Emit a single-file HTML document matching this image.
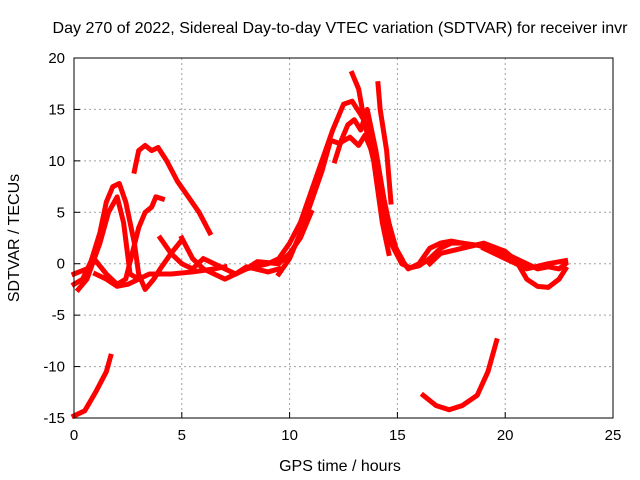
<!DOCTYPE html>
<html><head><meta charset="utf-8"><style>
body{margin:0;background:#fff}
svg{display:block;font-family:"Liberation Sans",sans-serif}
</style></head><body>
<svg id="chart" width="640" height="480">
<text x="340" y="33" font-size="16" text-anchor="middle" textLength="575" lengthAdjust="spacingAndGlyphs">Day 270 of 2022, Sidereal Day-to-day VTEC variation (SDTVAR) for receiver invr</text>
<text x="340" y="471" font-size="16" text-anchor="middle">GPS time / hours</text>
<text transform="translate(19,238) rotate(-90)" font-size="16" text-anchor="middle">SDTVAR / TECUs</text>
<g id="grid"></g><g id="series"></g>
<rect x="74" y="58" width="539" height="360" fill="none" stroke="#000" stroke-width="1"/>
</svg>
<script>
const xTicks=[0,5,10,15,20,25];
const yTicks=[-15,-10,-5,0,5,10,15,20];
const traces=[
[[0,-14.8],[0.5,-14.3],[1,-12.5],[1.5,-10.5],[1.7,-9]],
[[16.2,-12.8],[16.8,-13.8],[17.4,-14.2],[18,-13.8],[18.7,-12.8],[19.2,-10.5],[19.6,-7.5]],
[[2.8,9],[3.0,11],[3.3,11.5],[3.6,11],[3.9,11.3],[4.3,10],[4.8,8],[5.3,6.5],[5.8,5],[6.3,3]],
[[0,-2],[0.4,-1.5],[0.8,0.3],[1.2,3],[1.5,6],[1.8,7.5],[2.1,7.8],[2.4,6],[2.8,2],[3.0,-1],[3.3,-2.5],[3.7,-1.5],[4.0,-0.5],[4.5,1],[5,2.3]],
[[0,-1],[0.6,-0.5],[1,0.3],[1.5,-1],[2,-2],[2.4,-1.5],[2.7,1],[3.0,3.5],[3.3,5],[3.6,5.5],[3.8,6.5],[4.1,6.3]],
[[0.2,-2.5],[0.6,-1.5],[1.2,2],[1.6,5],[2.0,6.5],[2.3,4],[2.6,-1],[3.0,-1.5],[3.5,-1],[4.5,-1],[5.5,-0.8],[6.5,-0.5],[7,-0.3]],
[[4.0,2.5],[4.5,1],[5,0],[5.5,-0.5],[6,0.5],[6.5,0],[7,-0.5],[7.5,-1],[8,-0.5],[8.5,0.2],[9.5,0],[10,1],[10.5,2.5],[11,5]],
[[5,2.5],[5.5,0.5],[6,-0.5],[6.5,-1],[7,-1.5],[7.5,-1],[8,-0.3],[9,-0.8],[9.5,-0.5]],
[[8,-0.5],[9,0],[9.5,0.5],[10,2],[10.5,4],[11,7],[11.5,10],[12,13],[12.5,15.5],[12.9,15.8],[13.3,14.5],[13.7,13],[14,10],[14.3,6],[14.7,2],[15.2,0],[15.6,-0.4],[16,-0.2],[16.5,0.5],[17,1.5],[17.5,2],[18,2],[18.7,1.8],[19.3,1.5],[20,1],[20.5,0.5],[21,0],[21.5,-0.5],[22,-0.3],[22.5,-0.5],[22.8,0]],
[[9.5,-1],[10,0.5],[10.5,3],[11,6],[11.5,9],[11.9,12],[12.3,11.7],[12.8,12.3],[13.2,11.5],[13.5,12.5],[13.8,11],[14.2,8],[14.6,4],[15,1],[15.5,-0.5],[16,0],[16.5,1.5],[17,2],[17.5,2.2],[18,2]],
[[12.1,10],[12.4,12],[12.7,13.5],[13,14],[13.3,13],[13.6,15],[14,11],[14.4,6],[14.8,2],[15.2,0.5]],
[[12.9,18.5],[13.2,17],[13.5,13.5],[13.9,10],[14.3,4],[14.6,1]],
[[14.1,17.5],[14.2,15],[14.5,11],[14.7,6]],
[[16.5,0],[17,1],[18,1.5],[19,2],[20,1.2],[20.5,0.3],[21,-1.5],[21.5,-2.2],[22,-2.3],[22.5,-1.5],[22.8,-0.5]],
[[19,1.5],[20,0.5],[21,-0.5],[22,0],[22.8,0.3]],
[[1.0,-1],[1.5,-1.5],[2.0,-2.2],[2.5,-2],[3.0,-1.5]]
];
const X0=74,X1=613,Y0=418,Y1=58,XMIN=0,XMAX=25,YMIN=-15,YMAX=20;
const sx=v=>X0+(v-XMIN)/(XMAX-XMIN)*(X1-X0);
const sy=v=>Y0-(v-YMIN)/(YMAX-YMIN)*(Y0-Y1);
const NS="http://www.w3.org/2000/svg";
const grid=document.getElementById('grid'),ser=document.getElementById('series');
function mk(tag,attrs,parent){const e=document.createElementNS(NS,tag);for(const k in attrs)e.setAttribute(k,attrs[k]);parent.appendChild(e);return e;}
xTicks.forEach(t=>{const x=sx(t);
 if(t>XMIN&&t<XMAX){const g=mk('line',{x1:x,x2:x,y1:Y1,y2:Y0,stroke:'#a0a0a0','stroke-dasharray':'2,3'},grid);
 
 }
 const tk=mk('line',{x1:x,x2:x,y1:Y0,y2:Y0-6,stroke:'#000'},grid);
 
 
 const tx=mk('text',{x:x,y:Y0+22,'font-size':15,'text-anchor':'middle'},grid);tx.textContent=t;
 
 
});
yTicks.forEach(t=>{const y=sy(t);
 if(t>YMIN&&t<YMAX){const g=mk('line',{x1:X0,x2:X1,y1:y,y2:y,stroke:'#a0a0a0','stroke-dasharray':'2,3'},grid);
 
 }
 const tk=mk('line',{x1:X0,x2:X0+6,y1:y,y2:y,stroke:'#000'},grid);
 
 
 const tx=mk('text',{x:X0-9,y:y+5,'font-size':15,'text-anchor':'end'},grid);tx.textContent=t;
 
 
});
traces.forEach((tr,i)=>{
 const p=mk('polyline',{points:tr.map(d=>sx(d[0])+','+sy(d[1])).join(' '),fill:'none',stroke:'#ff0000','stroke-width':5,'stroke-linejoin':'round','stroke-linecap':'square'},ser);
 
 
});
</script>
</body></html>
